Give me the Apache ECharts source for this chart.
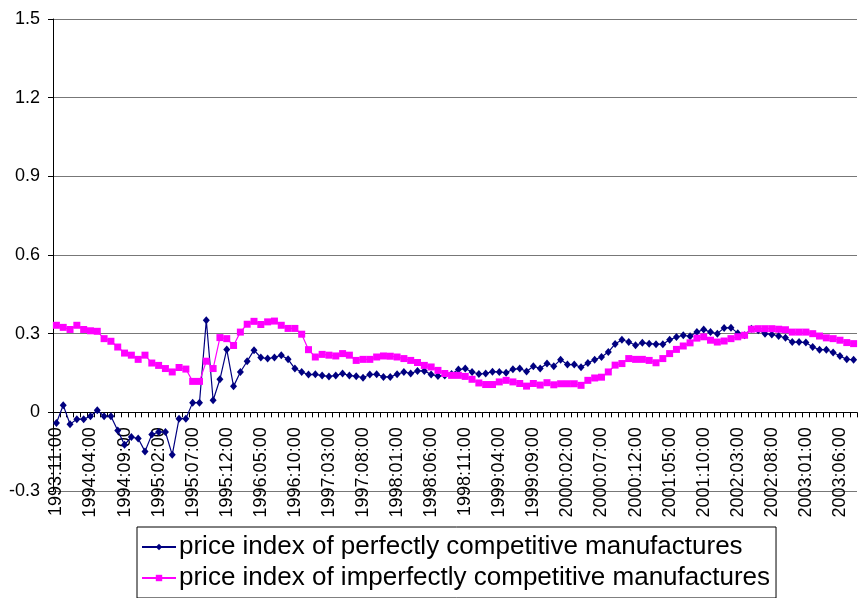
<!DOCTYPE html>
<html>
<head>
<meta charset="utf-8">
<script src="https://cdn.jsdelivr.net/npm/echarts@6/dist/echarts.min.js"></script>
<style>
  html, body { margin: 0; padding: 0; background: #fff; }
  #chart { width: 858px; height: 598px; }
</style>
</head>
<body>
<div id="chart"></div>
<script>
// monthly categories, 1993:11 .. 2003:08
const startYear = 1993
const startMonth = 11
const monthCount = 118
const categories = []
for (let i = 0; i < monthCount; i++) {
  const m = startMonth - 1 + i
  const y = startYear + Math.floor(m / 12)
  const mm = String(m % 12 + 1).padStart(2, '0')
  categories.push(y + ':' + mm + ':00')
}

const yTicks = { min: -0.3, max: 1.5, step: 0.3 }

const perfectName = 'price index of perfectly competitive manufactures'
const imperfectName = 'price index of imperfectly competitive manufactures'

const perfect = [
  -0.041, 0.027, -0.045, -0.026, -0.026, -0.015, 0.008, -0.015, -0.015, -0.069,
  -0.124, -0.094, -0.1, -0.149, -0.085, -0.075, -0.075, -0.162, -0.024, -0.024,
  0.037, 0.037, 0.351, 0.046, 0.126, 0.24, 0.099, 0.154, 0.195, 0.237,
  0.209, 0.205, 0.209, 0.218, 0.202, 0.167, 0.154, 0.144, 0.145, 0.14,
  0.137, 0.14, 0.148, 0.14, 0.138, 0.132, 0.144, 0.145, 0.135, 0.135,
  0.145, 0.154, 0.148, 0.158, 0.158, 0.144, 0.139, 0.14, 0.146, 0.163,
  0.167, 0.154, 0.146, 0.148, 0.155, 0.154, 0.151, 0.164, 0.167, 0.156,
  0.176, 0.167, 0.186, 0.176, 0.201, 0.182, 0.182, 0.172, 0.188, 0.201,
  0.211, 0.23, 0.261, 0.277, 0.268, 0.256, 0.265, 0.262, 0.26, 0.26,
  0.277, 0.287, 0.294, 0.29, 0.306, 0.316, 0.306, 0.3, 0.322, 0.323,
  0.302, 0.294, 0.319, 0.313, 0.3, 0.297, 0.291, 0.284, 0.268, 0.268,
  0.266, 0.249, 0.239, 0.239, 0.228, 0.215, 0.202, 0.201
]

const imperfect = [
  0.332, 0.324, 0.316, 0.332, 0.316, 0.311, 0.309, 0.281, 0.271, 0.249,
  0.226, 0.218, 0.202, 0.218, 0.188, 0.179, 0.167, 0.154, 0.171, 0.165,
  0.118, 0.118, 0.195, 0.167, 0.285, 0.281, 0.255, 0.306, 0.336, 0.347,
  0.335, 0.345, 0.348, 0.332, 0.32, 0.32, 0.298, 0.239, 0.211, 0.221,
  0.218, 0.215, 0.224, 0.218, 0.198, 0.202, 0.202, 0.211, 0.215, 0.214,
  0.211, 0.205, 0.198, 0.19, 0.179, 0.173, 0.16, 0.148, 0.141, 0.141,
  0.137, 0.126, 0.112, 0.106, 0.106, 0.116, 0.122, 0.116, 0.11, 0.1,
  0.11, 0.104, 0.113, 0.105, 0.109, 0.109, 0.109, 0.103, 0.122, 0.131,
  0.134, 0.154, 0.18, 0.186, 0.205, 0.202, 0.202, 0.198, 0.189, 0.205,
  0.224, 0.24, 0.253, 0.265, 0.283, 0.288, 0.275, 0.268, 0.272, 0.281,
  0.288, 0.294, 0.317, 0.319, 0.319, 0.319, 0.317, 0.315, 0.306, 0.306,
  0.306, 0.3, 0.291, 0.284, 0.281, 0.275, 0.266, 0.262
]

const font = 'Liberation Sans, Arial, sans-serif'
const chart = echarts.init(document.getElementById('chart'))

// category axis crosses at y = 0, labels hang right below it
const plotTop = 19
const plotBottom = 491
const zeroOffset = -(plotBottom - plotTop) * (0 - yTicks.min) / (yTicks.max - yTicks.min)

chart.setOption({
  animation: false,
  textStyle: { fontFamily: font },
  grid: { left: 53, right: 1, top: plotTop, bottom: 598 - plotBottom, containLabel: false },
  legend: {
    orient: 'vertical',
    left: 137,
    top: 527,
    padding: [7, 6, 7, 4],
    itemGap: 5,
    itemWidth: 34,
    itemHeight: 8,
    backgroundColor: '#fff',
    borderColor: '#000',
    borderWidth: 1,
    textStyle: { fontSize: 26, color: '#000', fontFamily: font, padding: [0, 0, 0, -2] },
    data: [perfectName, imperfectName]
  },
  xAxis: {
    type: 'category',
    data: categories,
    boundaryGap: true,
    offset: zeroOffset,
    axisLine: { onZero: false, lineStyle: { color: '#000', width: 1 } },
    axisTick: { show: true, interval: 0, length: 5, lineStyle: { color: '#000' } },
    axisLabel: {
      interval: 4,
      rotate: 90,
      margin: 15,
      fontSize: 18,
      color: '#000',
      fontFamily: font
    },
    splitLine: { show: false }
  },
  yAxis: {
    type: 'value',
    min: yTicks.min,
    max: yTicks.max,
    interval: yTicks.step,
    axisLine: { show: true, lineStyle: { color: '#000', width: 1 } },
    axisTick: { show: true, length: 5, lineStyle: { color: '#000' } },
    axisLabel: {
      margin: 13,
      fontSize: 18,
      color: '#000',
      fontFamily: font,
      formatter: v => (Math.round(v * 10) / 10).toString()
    },
    splitLine: { show: true, lineStyle: { color: '#777', width: 1 } }
  },
  series: [
    {
      name: perfectName,
      type: 'line',
      data: perfect,
      symbol: 'diamond',
      symbolSize: [7, 8],
      showAllSymbol: true,
      lineStyle: { color: '#000080', width: 1.2 },
      itemStyle: { color: '#000080' }
    },
    {
      name: imperfectName,
      type: 'line',
      data: imperfect,
      symbol: 'rect',
      symbolSize: 7,
      showAllSymbol: true,
      lineStyle: { color: '#ff00ff', width: 1.2 },
      itemStyle: { color: '#ff00ff' }
    }
  ]
})
</script>
</body>
</html>
